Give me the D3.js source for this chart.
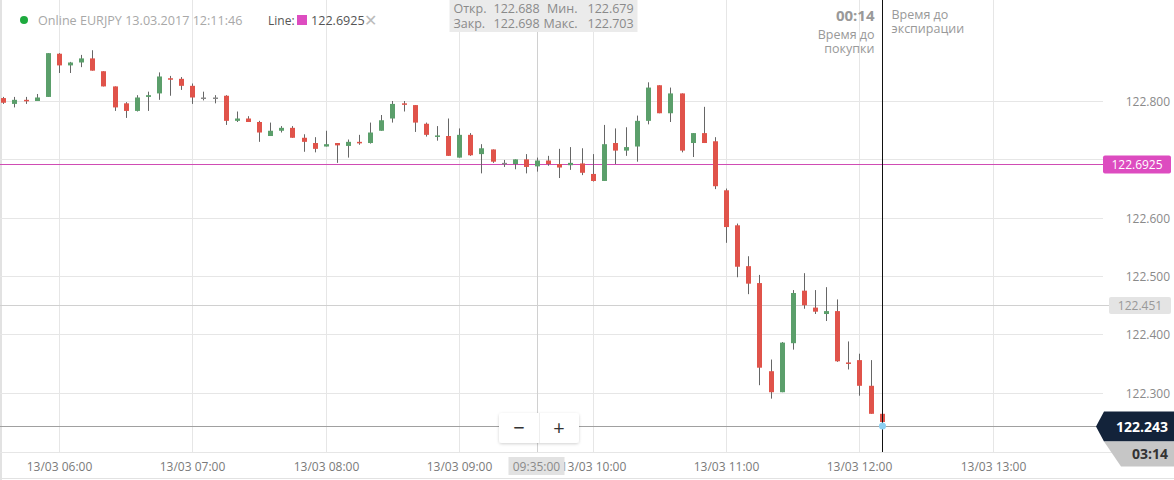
<!DOCTYPE html>
<html><head><meta charset="utf-8">
<script src="https://cdn.jsdelivr.net/npm/d3@7"></script>
<style>
html,body{margin:0;padding:0;background:#fff;}
svg{display:block;font-family:"Open Sans",sans-serif;}
</style></head>
<body><svg id="c" width="1174" height="480"></svg>
<script>
// ---- data ----
const times = ["05:35","05:40","05:45","05:50","05:55","06:00","06:05","06:10","06:15","06:20","06:25","06:30","06:35","06:40","06:45","06:50","06:55",
"07:00","07:05","07:10","07:15","07:20","07:25","07:30","07:35","07:40","07:45","07:50","07:55",
"08:00","08:05","08:10","08:15","08:20","08:25","08:30","08:35","08:40","08:45","08:50","08:55",
"09:00","09:05","09:10","09:15","09:20","09:25","09:30","09:35","09:40","09:45","09:50","09:55",
"10:00","10:05","10:10","10:15","10:20","10:25","10:30","10:35","10:40","10:45","10:50","10:55",
"11:00","11:05","11:10","11:15","11:20","11:25","11:30","11:35","11:40","11:45","11:50","11:55",
"12:00","12:05","12:10"];
const open  = [122.805,122.795,122.802,122.800,122.807,122.881,122.861,122.866,122.873,122.851,122.825,122.796,122.783,122.807,122.813,122.839,122.838,122.826,122.806,122.806,
122.809,122.766,122.770,122.764,122.740,122.749,122.754,122.737,122.728,122.722,122.728,122.723,122.730,122.728,122.749,122.770,122.796,122.793,122.761,122.740,
122.740,122.703,122.742,122.709,122.717,122.694,122.692,122.700,122.688,122.698,122.692,122.690,122.693,122.675,122.663,122.728,122.715,122.722,122.766,122.827,
122.779,122.813,122.728,122.745,122.731,122.647,122.587,122.517,122.488,122.337,122.301,122.385,122.475,122.446,122.435,122.440,122.352,122.356,122.312,122.264];
const high  = [122.807,122.807,122.807,122.812,122.882,122.882,122.867,122.879,122.887,122.851,122.825,122.798,122.810,122.816,122.849,122.843,122.841,122.830,122.816,122.810,
122.810,122.782,122.774,122.766,122.763,122.757,122.757,122.743,122.738,122.749,122.728,122.734,122.742,122.763,122.776,122.800,122.800,122.793,122.763,122.757,
122.770,122.753,122.745,122.726,122.717,122.699,122.700,122.709,122.703,122.706,122.718,122.721,122.719,122.709,122.759,122.753,122.755,122.775,122.832,122.827,
122.823,122.813,122.745,122.790,122.738,122.650,122.590,122.534,122.502,122.357,122.387,122.476,122.505,122.476,122.481,122.460,122.388,122.367,122.356,122.264];
const low   = [122.795,122.789,122.795,122.800,122.807,122.848,122.848,122.858,122.852,122.825,122.783,122.771,122.782,122.783,122.802,122.809,122.819,122.795,122.801,122.796,
122.759,122.764,122.764,122.730,122.740,122.746,122.737,122.713,122.712,122.722,122.694,122.703,122.725,122.727,122.749,122.763,122.782,122.747,122.739,122.732,
122.706,122.703,122.706,122.676,122.694,122.687,122.683,122.676,122.679,122.689,122.668,122.682,122.673,122.662,122.663,122.692,122.706,122.696,122.760,122.779,
122.764,122.712,122.704,122.728,122.649,122.557,122.498,122.469,122.313,122.290,122.301,122.374,122.444,122.435,122.423,122.353,122.340,122.295,122.264,122.243];
const close = [122.797,122.802,122.801,122.806,122.882,122.861,122.866,122.873,122.852,122.825,122.789,122.783,122.806,122.810,122.842,122.838,122.826,122.806,122.806,122.806,
122.766,122.770,122.764,122.746,122.749,122.754,122.737,122.730,122.718,122.726,122.724,122.730,122.729,122.746,122.767,122.795,122.795,122.763,122.742,122.741,
122.706,122.742,122.707,122.719,122.696,122.694,122.700,122.687,122.698,122.692,122.686,122.694,122.677,122.663,122.726,122.715,122.721,122.766,122.823,122.779,
122.813,122.715,122.745,122.728,122.654,122.584,122.516,122.487,122.343,122.301,122.386,122.471,122.450,122.439,122.440,122.354,122.350,122.312,122.264,122.250];
const yTicks = [122.3,122.4,122.5,122.6,122.7,122.8];
const yTickLabels = ["122.300","122.400","122.500","122.600","","122.800"];
const xTickTimes = ["06:00","07:00","08:00","09:00","10:00","11:00","12:00","13:00"];
const xTickLabels = ["13/03 06:00","13/03 07:00","13/03 08:00","13/03 09:00","13/03 10:00","13/03 11:00","13/03 12:00","13/03 13:00"];
const lineLevel = 122.6925;
const crossPrice = 122.451;
const crossTime = "09:35";
const currentPrice = 122.243;
const expiryTime = "12:10";
const ohlcLabels = ["Откр.","Закр.","Мин.","Макс."];

// ---- scales ----
const parse = s => { const [h,m] = s.split(":").map(Number); return new Date(2017,2,13,h,m,0); };
const W = 1174, H = 480, plotR = 1103, plotB = 452;
const x = d3.scaleTime().domain([new Date(2017,2,13,5,33,30), new Date(2017,2,13,13,49,30)]).range([0, plotR]);
const y = d3.scaleLinear().domain([122.3,122.8]).range([392.8,101]);

const svg = d3.select("#c");
const green = "#5b9f6b", red = "#e0534a", wickC = "#666";

// frame
svg.append("line").attr("x1",1).attr("x2",1).attr("y1",0).attr("y2",H).attr("stroke","#e2e2e2").attr("stroke-width",2);
svg.append("line").attr("x1",0).attr("x2",W).attr("y1",478.5).attr("y2",478.5).attr("stroke","#e2e2e2");
svg.append("line").attr("x1",0).attr("x2",W).attr("y1",plotB+0.5).attr("y2",plotB+0.5).attr("stroke","#e6e6e6");

// grid
const gy = svg.append("g");
yTicks.forEach((v,i)=>{
  const yy = Math.round(y(v))+0.5;
  gy.append("line").attr("x1",0).attr("x2",plotR).attr("y1",yy).attr("y2",yy).attr("stroke","#e6e6e6");
  if (yTickLabels[i]) gy.append("text").attr("x",1170).attr("y",yy+4).attr("text-anchor","end")
    .attr("font-size",12).attr("fill","#8a8a8a").text(yTickLabels[i]);
});
const gx = svg.append("g");
xTickTimes.forEach((t,i)=>{
  const xx = Math.round(x(parse(t)))+0.5;
  gx.append("line").attr("x1",xx).attr("x2",xx).attr("y1",0).attr("y2",plotB).attr("stroke","#e6e6e6");
  gx.append("text").attr("x",xx).attr("y",471).attr("text-anchor","middle").attr("font-size",12).attr("fill","#7a7a7a").text(xTickLabels[i]);
});

// crosshair
const cx = Math.round(x(parse(crossTime)))+0.5;
const cy = Math.round(y(crossPrice))+0.5;
svg.append("line").attr("x1",cx).attr("x2",cx).attr("y1",0).attr("y2",plotB).attr("stroke","#d0d0d0");
svg.append("line").attr("x1",0).attr("x2",1109).attr("y1",cy).attr("y2",cy).attr("stroke","#d0d0d0");

// line level
const ly = Math.round(y(lineLevel))+0.5;
svg.append("line").attr("x1",0).attr("x2",plotR).attr("y1",ly).attr("y2",ly).attr("stroke","#d04cb4");

// current price line
const py = Math.round(y(currentPrice))+0.5;
svg.append("line").attr("x1",0).attr("x2",1100).attr("y1",py).attr("y2",py).attr("stroke","#a0a0a0");

// candles
const data = times.map((t,i)=>({t:parse(t),o:open[i],h:high[i],l:low[i],c:close[i]}));
const cg = svg.append("g");
data.forEach(d=>{
  const xc = x(d.t);
  const col = d.c>d.o ? green : (d.c<d.o ? red : "#8a8a8a");
  cg.append("line").attr("x1",Math.round(xc)+0.5).attr("x2",Math.round(xc)+0.5)
    .attr("y1",y(d.h)).attr("y2",y(d.l)).attr("stroke",wickC).attr("stroke-width",1);
  const top = y(Math.max(d.o,d.c)), bot = y(Math.min(d.o,d.c));
  const h = Math.max(1.5, bot-top);
  cg.append("rect").attr("x",Math.round(xc)-2).attr("width",5).attr("y",top).attr("height",h).attr("fill",col);
});

// expiry line
const ex = Math.round(x(parse(expiryTime)))+0.5;
svg.append("line").attr("x1",ex).attr("x2",ex).attr("y1",0).attr("y2",plotB).attr("stroke","#111");
svg.append("circle").attr("cx",ex).attr("cy",y(currentPrice)).attr("r",3.5).attr("fill","#8ccff2");

// top legend
svg.append("circle").attr("cx",24).attr("cy",20).attr("r",4).attr("fill","#1daa3e");
svg.append("text").attr("x",38).attr("y",25).attr("font-size",12.6).attr("fill","#a8a8a8").text("Online EURJPY 13.03.2017 12:11:46");
svg.append("text").attr("x",268).attr("y",25).attr("font-size",12).attr("fill","#555").text("Line:");
svg.append("rect").attr("x",297).attr("y",15).attr("width",10).attr("height",10).attr("fill","#dd4cc0");
svg.append("text").attr("x",311).attr("y",25).attr("font-size",12.6).attr("fill","#555").text(lineLevel.toFixed(4));
svg.append("text").attr("x",364).attr("y",26).attr("font-size",16).attr("fill","#bbb").text("✕");

// OHLC box
const d48 = data[times.indexOf(crossTime)];
const bx = cx - 88;
svg.append("rect").attr("x",bx).attr("y",0).attr("width",188).attr("height",32).attr("fill","#ebebeb");
const ot = svg.append("g").attr("font-size",12.5).attr("fill","#8a8a8a");
[[ohlcLabels[0],d48.o,ohlcLabels[2],d48.l,13],[ohlcLabels[1],d48.c,ohlcLabels[3],d48.h,28]].forEach(r=>{
  ot.append("text").attr("x",bx+4).attr("y",r[4]).text(r[0]);
  ot.append("text").attr("x",bx+44).attr("y",r[4]).text(r[1].toFixed(3));
  ot.append("text").attr("x",bx+128).attr("y",r[4]).attr("text-anchor","end").text(r[2]);
  ot.append("text").attr("x",bx+138).attr("y",r[4]).text(r[3].toFixed(3));
});

// timers
svg.append("text").attr("x",ex-8).attr("y",21).attr("text-anchor","end").attr("font-size",15).attr("font-weight","bold").attr("fill","#999").text("00:14");
svg.append("text").attr("x",ex-8).attr("y",39).attr("text-anchor","end").attr("font-size",12.5).attr("fill","#999").text("Время до");
svg.append("text").attr("x",ex-8).attr("y",53).attr("text-anchor","end").attr("font-size",12.5).attr("fill","#999").text("покупки");
svg.append("text").attr("x",ex+9).attr("y",19).attr("font-size",12.5).attr("fill","#999").text("Время до");
svg.append("text").attr("x",ex+9).attr("y",33).attr("font-size",12.5).attr("fill","#999").text("экспирации");

// right labels
svg.append("rect").attr("x",1103).attr("y",ly-9).attr("width",68).attr("height",18).attr("rx",2).attr("fill","#dd4cc0");
svg.append("text").attr("x",1137).attr("y",ly+4.5).attr("text-anchor","middle").attr("font-size",12).attr("fill","#fff").text(lineLevel.toFixed(4));
svg.append("rect").attr("x",1109).attr("y",cy-8.5).attr("width",62).attr("height",17).attr("rx",2).attr("fill","#e4e4e4");
svg.append("text").attr("x",1140).attr("y",cy+4.5).attr("text-anchor","middle").attr("font-size",12).attr("fill","#999").text(crossPrice.toFixed(3));
svg.append("path").attr("d",`M1096,${py} L1104,${py-15} L1174,${py-15} L1174,${py+15} L1104,${py+15} Z`).attr("fill","#13233a");
svg.append("text").attr("x",1168).attr("y",py+5).attr("text-anchor","end").attr("font-size",14).attr("font-weight","bold").attr("fill","#fff").text(currentPrice.toFixed(3));
svg.append("path").attr("d",`M1104,${py+15} L1174,${py+15} L1174,${py+40} L1121,${py+40} Z`).attr("fill","#c6c6c6");
svg.append("text").attr("x",1168).attr("y",py+32).attr("text-anchor","end").attr("font-size",14).attr("font-weight","bold").attr("fill","#333").text("03:14");

// time label box
svg.append("rect").attr("x",cx-29).attr("y",457).attr("width",56).attr("height",18).attr("fill","#e2e2e2");
svg.append("text").attr("x",cx-1).attr("y",471).attr("text-anchor","middle").attr("font-size",12).attr("fill","#8a8a8a").text(crossTime+":00");

// zoom buttons
const defs = svg.append("defs");
const f = defs.append("filter").attr("id","sh").attr("x","-20%").attr("y","-30%").attr("width","140%").attr("height","160%");
f.append("feDropShadow").attr("dx",0).attr("dy",1).attr("stdDeviation",1.5).attr("flood-color","#000").attr("flood-opacity",0.18);
svg.append("rect").attr("x",499).attr("y",413).attr("width",80).attr("height",30).attr("rx",3).attr("fill","#fff").attr("filter","url(#sh)");
svg.append("line").attr("x1",539.5).attr("x2",539.5).attr("y1",413).attr("y2",443).attr("stroke","#eee");
svg.append("text").attr("x",519).attr("y",435).attr("text-anchor","middle").attr("font-size",20).attr("fill","#333").text("−");
svg.append("text").attr("x",559).attr("y",435).attr("text-anchor","middle").attr("font-size",20).attr("fill","#333").text("+");
</script></body></html>
